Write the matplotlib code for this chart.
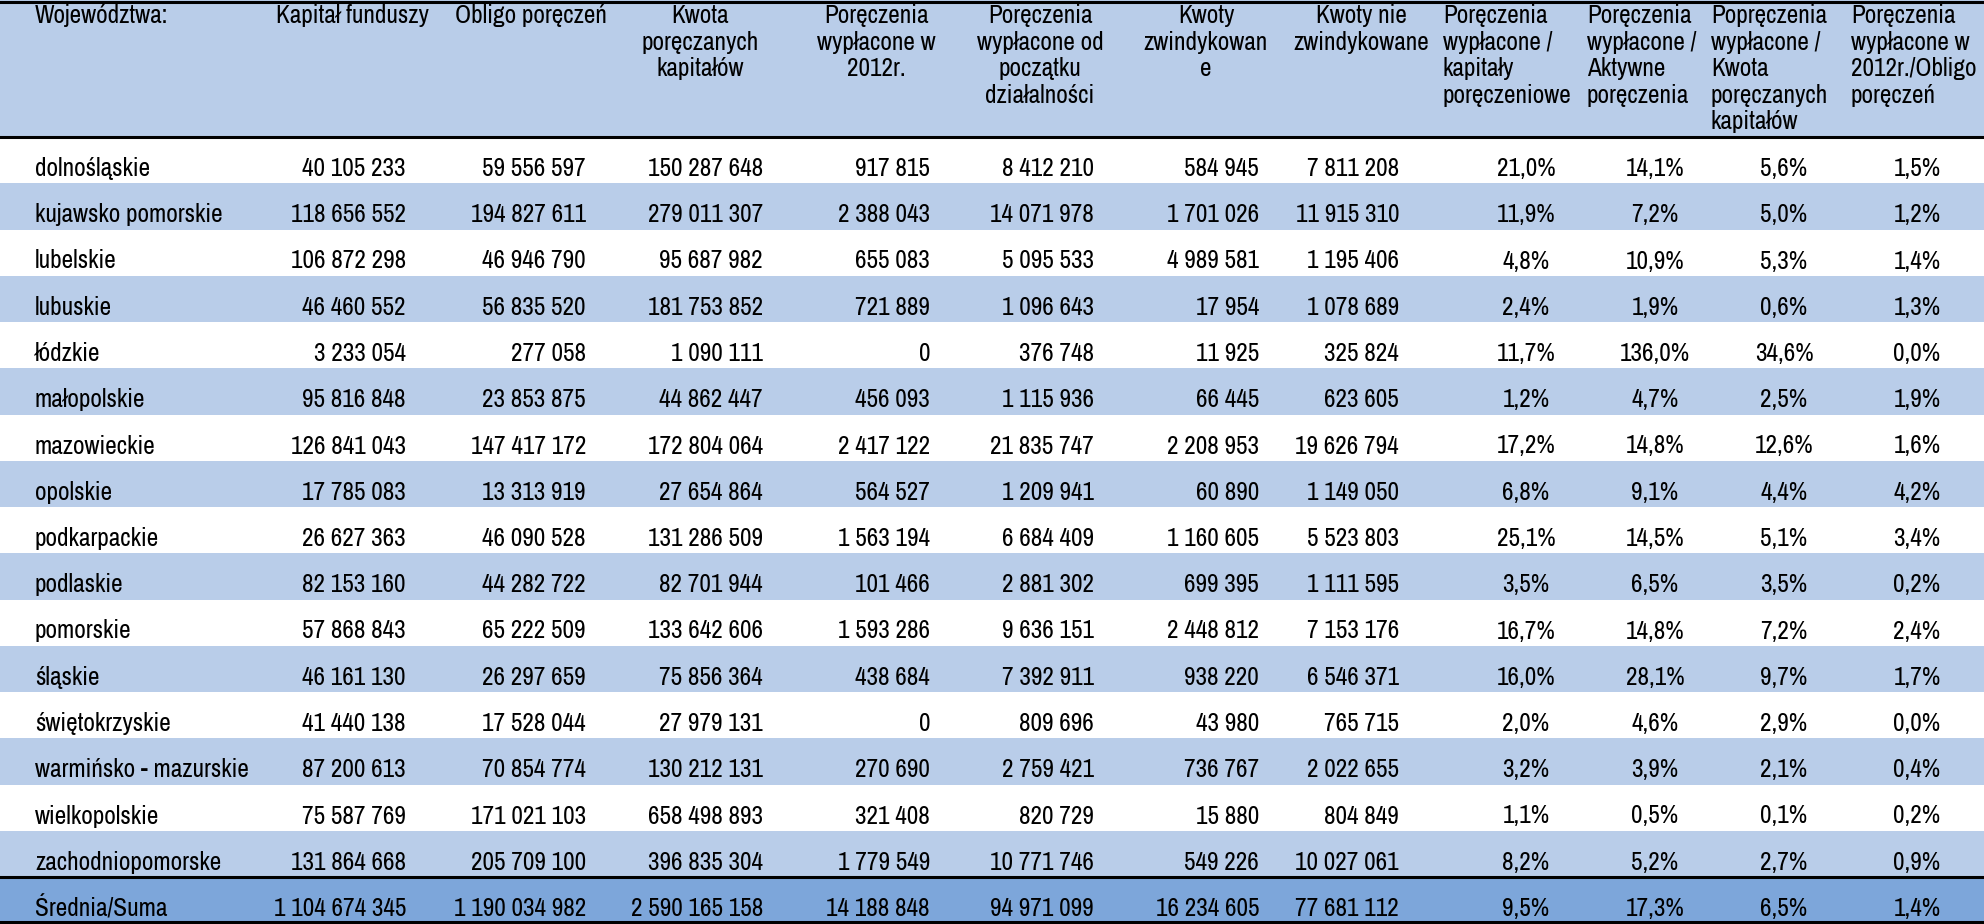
import matplotlib.pyplot as plt
from matplotlib.patches import Rectangle

plt.rcParams['font.family'] = ['Archivo Narrow', 'Liberation Sans', 'DejaVu Sans']

headers = ['Województwa:', 'Kapitał funduszy', 'Obligo poręczeń',
           'Kwota\nporęczanych\nkapitałów', 'Poręczenia\nwypłacone w\n2012r.',
           'Poręczenia\nwypłacone od\npoczątku\ndziałalności',
           'Kwoty\nzwindykowan\ne', 'Kwoty nie\nzwindykowane',
           'Poręczenia\nwypłacone /\nkapitały\nporęczeniowe',
           'Poręczenia\nwypłacone /\nAktywne\nporęczenia',
           'Popręczenia\nwypłacone /\nKwota\nporęczanych\nkapitałów',
           'Poręczenia\nwypłacone w\n2012r./Obligo\nporęczeń']

regions = ['dolnośląskie', 'kujawsko pomorskie', 'lubelskie', 'lubuskie', 'łódzkie',
           'małopolskie', 'mazowieckie', 'opolskie', 'podkarpackie', 'podlaskie',
           'pomorskie', 'śląskie', 'świętokrzyskie', 'warmińsko - mazurskie',
           'wielkopolskie', 'zachodniopomorske']

kapital = [40105233, 118656552, 106872298, 46460552, 3233054, 95816848, 126841043, 17785083,
           26627363, 82153160, 57868843, 46161130, 41440138, 87200613, 75587769, 131864668]
obligo = [59556597, 194827611, 46946790, 56835520, 277058, 23853875, 147417172, 13313919,
          46090528, 44282722, 65222509, 26297659, 17528044, 70854774, 171021103, 205709100]
kwota = [150287648, 279011307, 95687982, 181753852, 1090111, 44862447, 172804064, 27654864,
         131286509, 82701944, 133642606, 75856364, 27979131, 130212131, 658498893, 396835304]
wyp_2012 = [917815, 2388043, 655083, 721889, 0, 456093, 2417122, 564527,
            1563194, 101466, 1593286, 438684, 0, 270690, 321408, 1779549]
wyp_od_poczatku = [8412210, 14071978, 5095533, 1096643, 376748, 1115936, 21835747, 1209941,
                   6684409, 2881302, 9636151, 7392911, 809696, 2759421, 820729, 10771746]
zwindykowane = [584945, 1701026, 4989581, 17954, 11925, 66445, 2208953, 60890,
                1160605, 699395, 2448812, 938220, 43980, 736767, 15880, 549226]
niezwindykowane = [7811208, 11915310, 1195406, 1078689, 325824, 623605, 19626794, 1149050,
                   5523803, 1111595, 7153176, 6546371, 765715, 2022655, 804849, 10027061]
pct_kapital = [21.0, 11.9, 4.8, 2.4, 11.7, 1.2, 17.2, 6.8, 25.1, 3.5, 16.7, 16.0, 2.0, 3.2, 1.1, 8.2]
pct_aktywne = [14.1, 7.2, 10.9, 1.9, 136.0, 4.7, 14.8, 9.1, 14.5, 6.5, 14.8, 28.1, 4.6, 3.9, 0.5, 5.2]
pct_kwota = [5.6, 5.0, 5.3, 0.6, 34.6, 2.5, 12.6, 4.4, 5.1, 3.5, 7.2, 9.7, 2.9, 2.1, 0.1, 2.7]
pct_obligo = [1.5, 1.2, 1.4, 1.3, 0.0, 1.9, 1.6, 4.2, 3.4, 0.2, 2.4, 1.7, 0.0, 0.4, 0.2, 0.9]

total_label = 'Średnia/Suma'
totals_num = [1104674345, 1190034982, 2590165158, 14188848, 94971099, 16234605, 77681112]
totals_pct = [9.5, 17.3, 6.5, 1.4]


def fmt_num(v):
    return f'{v:,}'.replace(',', ' ')


def fmt_pct(v):
    return f'{v:.1f}%'.replace('.', ',')


# pixel layout
W, H = 1984, 924
light = '#b9cde9'
dark = '#7da6da'
fs = 18.2
header_bottom = 137
row_h = 46.25
num_right = [406, 586, 763, 930, 1094, 1259, 1399]
pct_center = [1526, 1655, 1784, 1917]
head_center = [352, 531, 700, 876, 1040, 1206, 1361]
head_left = [1443, 1587, 1711, 1851]

fig = plt.figure(figsize=(W / 100, H / 100), dpi=100)
ax = fig.add_axes([0, 0, 1, 1])
ax.set_xlim(0, W)
ax.set_ylim(H, 0)
ax.axis('off')

# header background
ax.add_patch(Rectangle((0, 0), W, header_bottom, color=light, lw=0))
for i, lab in enumerate(headers):
    for k, line in enumerate(lab.split('\n')):
        y = 23 + k * 26.6
        if i == 0:
            ax.text(35, y, line, ha='left', va='baseline', fontsize=fs)
        elif i <= 7:
            ax.text(head_center[i - 1], y, line, ha='center', va='baseline', fontsize=fs)
        else:
            ax.text(head_left[i - 8], y, line, ha='left', va='baseline', fontsize=fs)

num_cols = [kapital, obligo, kwota, wyp_2012, wyp_od_poczatku, zwindykowane, niezwindykowane]
pct_cols = [pct_kapital, pct_aktywne, pct_kwota, pct_obligo]

for r, name in enumerate(regions):
    top = header_bottom + r * row_h
    if r % 2 == 1:
        ax.add_patch(Rectangle((0, top), W, row_h, color=light, lw=0))
    yb = top + 39
    ax.text(35, yb, name, ha='left', va='baseline', fontsize=fs)
    for c, col in enumerate(num_cols):
        ax.text(num_right[c], yb, fmt_num(col[r]), ha='right', va='baseline', fontsize=fs)
    for c, col in enumerate(pct_cols):
        ax.text(pct_center[c], yb, fmt_pct(col[r]), ha='center', va='baseline', fontsize=fs)

# total row
top = header_bottom + len(regions) * row_h
ax.add_patch(Rectangle((0, top), W, H - top, color=dark, lw=0))
yb = top + 39
ax.text(35, yb, total_label, ha='left', va='baseline', fontsize=fs)
for c, v in enumerate(totals_num):
    ax.text(num_right[c], yb, fmt_num(v), ha='right', va='baseline', fontsize=fs)
for c, v in enumerate(totals_pct):
    ax.text(pct_center[c], yb, fmt_pct(v), ha='center', va='baseline', fontsize=fs)

# borders
for y in [1.5, header_bottom, top, H - 2]:
    ax.axhline(y, color='black', lw=2.2)

fig.savefig('out.png', dpi=100)
